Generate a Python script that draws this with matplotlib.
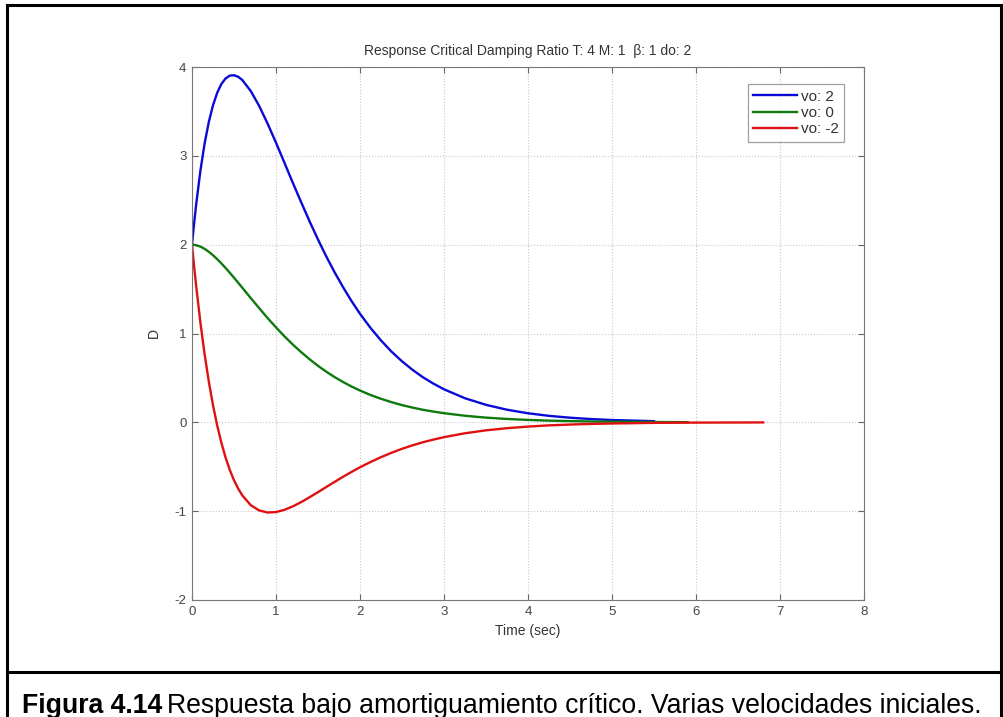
import numpy as np
import matplotlib.pyplot as plt
from matplotlib.lines import Line2D

plt.rcParams['font.family'] = ['Liberation Sans', 'DejaVu Sans']
plt.rcParams['axes.unicode_minus'] = False

# values
t = [0, 0.025, 0.05, 0.1, 0.15, 0.2, 0.25, 0.3, 0.35, 0.4, 0.45, 0.5, 0.55, 0.6, 0.7,
     0.8, 0.9, 1.0, 1.1, 1.2, 1.3, 1.4, 1.5, 1.6, 1.7, 1.8, 1.9, 2.0, 2.125, 2.25,
     2.375, 2.5, 2.625, 2.75, 2.875, 3.0, 3.25, 3.5, 3.75, 4.0, 4.25, 4.5, 4.75,
     5.0, 5.5]
d_vo_pos = [2.0, 2.239, 2.456, 2.832, 3.138, 3.381, 3.569, 3.710, 3.809, 3.871, 3.903,
            3.907, 3.890, 3.852, 3.729, 3.561, 3.363, 3.148, 2.923, 2.697, 2.477, 2.262,
            2.058, 1.865, 1.685, 1.519, 1.364, 1.222, 1.063, 0.922, 0.796, 0.687, 0.591,
            0.507, 0.435, 0.372, 0.271, 0.197, 0.142, 0.102, 0.073, 0.052, 0.037,
            0.026, 0.013]
t_green = t + [5.9]
d_vo_zero = [2.0, 1.998, 1.994, 1.978, 1.953, 1.920, 1.881, 1.837, 1.789, 1.737, 1.684,
             1.628, 1.571, 1.514, 1.398, 1.285, 1.174, 1.069, 0.969, 0.876, 0.790, 0.710,
             0.636, 0.569, 0.508, 0.453, 0.403, 0.358, 0.308, 0.265, 0.227, 0.194, 0.166,
             0.141, 0.121, 0.103, 0.074, 0.053, 0.038, 0.027, 0.019, 0.014, 0.0097,
             0.007, 0.0035, 0.002]
t_red = t + [6.0, 6.8]
d_vo_neg = [2.0, 1.758, 1.532, 1.123, 0.767, 0.459, 0.193, -0.036, -0.231, -0.397, -0.536,
            -0.652, -0.747, -0.824, -0.933, -0.992, -1.015, -1.010, -0.985, -0.946,
            -0.898, -0.843, -0.786, -0.727, -0.669, -0.612, -0.558, -0.506, -0.447,
            -0.392, -0.343, -0.298, -0.259, -0.224, -0.194, -0.167, -0.123, -0.090,
            -0.066, -0.048, -0.034, -0.025, -0.0176, -0.013, -0.006, -0.003, -0.001]
labels = ['vo: 2', 'vo: 0', 'vo: -2']
xticks = [0, 1, 2, 3, 4, 5, 6, 7, 8]
yticks = [-2, -1, 0, 1, 2, 3, 4]

fig = plt.figure(figsize=(10.04, 7.17), dpi=100)
ax = fig.add_axes([192/1004, 1 - 600/717, 672/1004, 533/717])

ax.plot(t, d_vo_pos, color='#0a0ad8', lw=1.7, label=labels[0])
ax.plot(t_green, d_vo_zero, color='#0e7a0e', lw=1.7, label=labels[1])
ax.plot(t_red, d_vo_neg, color='#e01010', lw=1.7, label=labels[2])

ax.set_xlim(0, 8)
ax.set_ylim(-2, 4)
ax.set_xticks(xticks)
ax.set_yticks(yticks)
ax.grid(True, linestyle=':', color='#c8c8c8', lw=0.8)
ax.tick_params(direction='in', top=True, right=True, length=4, width=0.8,
               colors='#666666', labelcolor='#444444', labelsize=9.5, pad=4)
for s in ax.spines.values():
    s.set_color('#777777')
    s.set_linewidth(0.8)

ax.set_title('Response Critical Damping Ratio T: 4 M: 1  \u03b2: 1 do: 2',
             fontsize=10, color='#333333', pad=9)
ax.set_xlabel('Time (sec)', fontsize=10, color='#333333', labelpad=5)
ax.set_ylabel('D', fontsize=10, color='#333333', labelpad=10)

leg = ax.legend(loc='upper right', fontsize=11, frameon=True, fancybox=False,
                handlelength=2.9, borderpad=0.35, labelspacing=0.15,
                bbox_to_anchor=(0.982, 0.982), handletextpad=0.25)
leg.get_frame().set_edgecolor('#888888')
leg.get_frame().set_linewidth(0.9)
for txt in leg.get_texts():
    txt.set_color('#333333')

# outer frame and caption box
W, H = 1004, 717
lw = 2.2
def fline(x0, y0, x1, y1):
    fig.add_artist(Line2D([x0/W, x1/W], [1 - y0/H, 1 - y1/H], color='black',
                          lw=lw, transform=fig.transFigure))
fline(7, 5, 1001, 5)
fline(7, 5, 7, 717)
fline(1001, 5, 1001, 717)
fline(7, 672, 1001, 672)

cap_y = 1 - 713/H
t1 = fig.text(22/W, cap_y, 'Figura 4.14', fontsize=19.2, fontweight='bold',
              ha='left', va='baseline')
fig.canvas.draw()
bb = t1.get_window_extent()
fig.text((bb.x1 + 5)/W, cap_y,
         'Respuesta bajo amortiguamiento cr\u00edtico. Varias velocidades iniciales.',
         fontsize=19.2, ha='left', va='baseline')

fig.savefig('out.png', dpi=100)
